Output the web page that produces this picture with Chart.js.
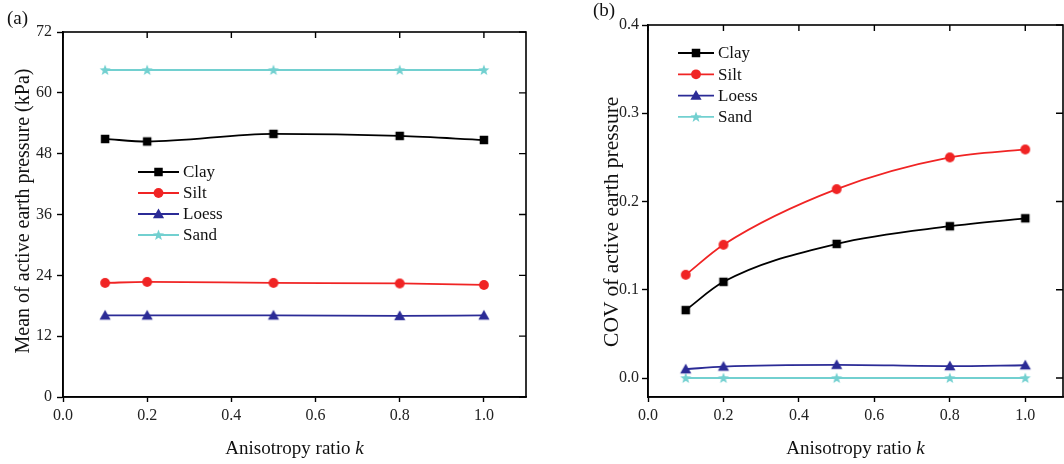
<!DOCTYPE html>
<html>
<head>
<meta charset="utf-8">
<script src="https://cdn.jsdelivr.net/npm/chart.js@4.4.1/dist/chart.umd.min.js"></script>
<style>
  html, body { margin: 0; padding: 0; background: #fff; }
  body { width: 1064px; height: 464px; position: relative; overflow: hidden; font-family: "Liberation Serif", "Times New Roman", serif; }
  .panel { position: absolute; top: 0; height: 464px; }
  .lbl { position: absolute; font-size: 19px; line-height: 19px; white-space: nowrap; color: #111; }
</style>
</head>
<body>
<div class="panel" style="left:0;width:540px;"><canvas id="c1" width="540" height="464"></canvas></div>
<div class="panel" style="left:560px;width:510px;"><canvas id="c2" width="510" height="464"></canvas></div>
<div class="lbl" style="left:7px;top:8px;">(a)</div>
<div class="lbl" style="left:593px;top:0px;">(b)</div>
<div class="lbl" id="xt1" style="top:438px;">Anisotropy ratio <i>k</i></div>
<div class="lbl" id="xt2" style="top:438px;">Anisotropy ratio <i>k</i></div>
<div class="lbl" id="yt1" style="font-size:20px;line-height:20px;">Mean of active earth pressure (kPa)</div>
<div class="lbl" id="yt2" style="font-size:21.5px;line-height:21.5px;">COV of active earth pressure</div>
<script>
// ---- data ----
const kRatio = [0.1, 0.2, 0.5, 0.8, 1.0];
const seriesNames = ['Clay', 'Silt', 'Loess', 'Sand'];
const meanClay  = [50.9, 50.4, 51.9, 51.5, 50.7];
const meanSilt  = [22.5, 22.7, 22.5, 22.4, 22.1];
const meanLoess = [16.1, 16.1, 16.1, 16.0, 16.1];
const meanSand  = [64.5, 64.5, 64.5, 64.5, 64.5];
const covClay   = [0.077, 0.109, 0.152, 0.172, 0.181];
const covSilt   = [0.117, 0.151, 0.214, 0.250, 0.259];
const covLoess  = [0.010, 0.013, 0.015, 0.0135, 0.0145];
const covSand   = [0.0, 0.0, 0.0, 0.0, 0.0];
const xTickVals    = [0.0, 0.2, 0.4, 0.6, 0.8, 1.0];
const meanTickVals = [0, 12, 24, 36, 48, 60, 72];
const covTickVals  = [0.0, 0.1, 0.2, 0.3, 0.4];

// ---- styles ----
const colors = ['#000000', '#f02424', '#2b2b96', '#72d0d0'];
const FONT = '"Liberation Serif", "Times New Roman", serif';

function drawMarker(ctx, kind, x, y, color) {
  ctx.save();
  ctx.fillStyle = color;
  ctx.beginPath();
  if (kind === 'rect') {
    const s = 8.5;
    ctx.rect(x - s / 2, y - s / 2, s, s);
  } else if (kind === 'circle') {
    ctx.arc(x, y, 4.9, 0, Math.PI * 2);
  } else if (kind === 'triangle') {
    ctx.moveTo(x, y - 5.5);
    ctx.lineTo(x + 5.6, y + 4.2);
    ctx.lineTo(x - 5.6, y + 4.2);
    ctx.closePath();
  } else if (kind === 'star') {
    const R = 5.8, r = 2.4;
    for (let i = 0; i < 10; i++) {
      const a = -Math.PI / 2 + i * Math.PI / 5;
      const rr = i % 2 === 0 ? R : r;
      const px = x + rr * Math.cos(a), py = y + 0.3 + rr * Math.sin(a);
      if (i === 0) ctx.moveTo(px, py); else ctx.lineTo(px, py);
    }
    ctx.closePath();
  }
  ctx.fill();
  ctx.restore();
}
const markerKinds = ['rect', 'circle', 'triangle', 'star'];
const markerImgs = markerKinds.map((k, i) => {
  const c = document.createElement('canvas');
  c.width = 14; c.height = 14;
  drawMarker(c.getContext('2d'), k, 7, 7, colors[i]);
  return c;
});

function makeDatasets(arrs) {
  return arrs.map((vals, i) => ({
    label: seriesNames[i],
    data: kRatio.map((k, j) => ({ x: k, y: vals[j] })),
    borderColor: colors[i],
    backgroundColor: colors[i],
    borderWidth: 1.8,
    pointStyle: markerImgs[i],
    pointRadius: 5,
    pointHoverRadius: 5,
    tension: 0.35,
    cubicInterpolationMode: 'monotone',
    fill: false
  }));
}

const framePlugin = {
  id: 'frame',
  afterDraw(chart, args, opts) {
    const { ctx, chartArea: a, scales } = chart;
    ctx.save();
    ctx.strokeStyle = '#000';
    ctx.lineWidth = 1.6;
    ctx.strokeRect(a.left, a.top, a.right - a.left, a.bottom - a.top);
    ctx.lineWidth = 1.4;
    ctx.beginPath();
    scales.x.ticks.forEach(t => {
      const px = scales.x.getPixelForValue(t.value);
      ctx.moveTo(px, a.top); ctx.lineTo(px, a.top + 6);
    });
    scales.y.ticks.forEach(t => {
      const py = scales.y.getPixelForValue(t.value);
      ctx.moveTo(a.right, py); ctx.lineTo(a.right - 7, py);
    });
    ctx.stroke();
    // legend
    const L = opts.legend;
    ctx.font = '17px ' + FONT;
    ctx.textBaseline = 'middle';
    ctx.fillStyle = '#111';
    chart.data.datasets.forEach((ds, i) => {
      const y = L.y + i * L.gap;
      ctx.strokeStyle = ds.borderColor;
      ctx.lineWidth = 1.8;
      ctx.beginPath();
      ctx.moveTo(L.x1, y); ctx.lineTo(L.x2, y);
      ctx.stroke();
      drawMarker(ctx, markerKinds[i], (L.x1 + L.x2) / 2, y, ds.borderColor);
      ctx.fillStyle = '#111';
      ctx.fillText(ds.label, L.tx, y + 1);
    });
    ctx.restore();
  }
};

function makeChart(id, datasets, cfg) {
  return new Chart(document.getElementById(id), {
    type: 'line',
    data: { datasets },
    plugins: [framePlugin],
    options: {
      responsive: false,
      animation: false,
      devicePixelRatio: 1,
      events: [],
      layout: { padding: { top: cfg.padTop, right: cfg.padRight, left: 0, bottom: 0 } },
      plugins: {
        legend: { display: false },
        tooltip: { enabled: false },
        frame: { legend: cfg.legend }
      },
      scales: {
        x: {
          type: 'linear',
          min: 0, max: 1.1,
          afterBuildTicks: s => { s.ticks = xTickVals.map(v => ({ value: v })); },
          afterFit: s => { s.height = 67; },
          grid: { drawOnChartArea: false, drawTicks: true, tickLength: 5, tickColor: '#000', tickWidth: 1.4 },
          border: { display: true, color: '#000', width: 1.6 },
          ticks: {
            padding: 4,
            color: '#222',
            font: { family: FONT, size: 16 },
            maxRotation: 0,
            callback: v => Number(v).toFixed(1)
          }
        },
        y: {
          type: 'linear',
          min: cfg.yMin, max: cfg.yMax,
          afterBuildTicks: s => { s.ticks = cfg.yTicks.map(v => ({ value: v })); },
          afterFit: s => { s.width = cfg.yWidth; },
          grid: { drawOnChartArea: false, drawTicks: true, tickLength: 6, tickColor: '#000', tickWidth: 1.4 },
          border: { display: true, color: '#000', width: 1.6 },
          title: { display: false },
          ticks: {
            padding: cfg.yTickPad,
            color: '#222',
            font: { family: FONT, size: 16 },
            callback: cfg.yFmt
          }
        }
      }
    }
  });
}

const ch1 = makeChart('c1', makeDatasets([meanClay, meanSilt, meanLoess, meanSand]), {
  padTop: 32, padRight: 14, yWidth: 63, yMin: 0, yMax: 72, yTicks: meanTickVals, yTickPad: 5,
  yFmt: v => String(v),
  legend: { x1: 138, x2: 179, tx: 183, y: 172, gap: 21 }
});
const ch2 = makeChart('c2', makeDatasets([covClay, covSilt, covLoess, covSand]), {
  padTop: 25, padRight: 7, yWidth: 88, yMin: -0.0215, yMax: 0.4, yTicks: covTickVals, yTickPad: 3,
  yFmt: v => Number(v).toFixed(1),
  legend: { x1: 118, x2: 154, tx: 158, y: 53, gap: 21.3 }
});

function centerTitle(elId, chart, offset) {
  const el = document.getElementById(elId);
  const a = chart.chartArea;
  const w = el.getBoundingClientRect().width;
  el.style.left = (offset + (a.left + a.right) / 2 - w / 2) + 'px';
}
centerTitle('xt1', ch1, 0);
centerTitle('xt2', ch2, 560);

function placeRotated(elId, cx, cy) {
  const el = document.getElementById(elId);
  const w = el.offsetWidth, h = el.offsetHeight;
  el.style.left = (cx - w / 2) + 'px';
  el.style.top = (cy - h / 2) + 'px';
  el.style.transformOrigin = '50% 50%';
  el.style.transform = 'rotate(-90deg)';
}
placeRotated('yt1', 22, 211);
placeRotated('yt2', 612, 222);
</script>
</body>
</html>
